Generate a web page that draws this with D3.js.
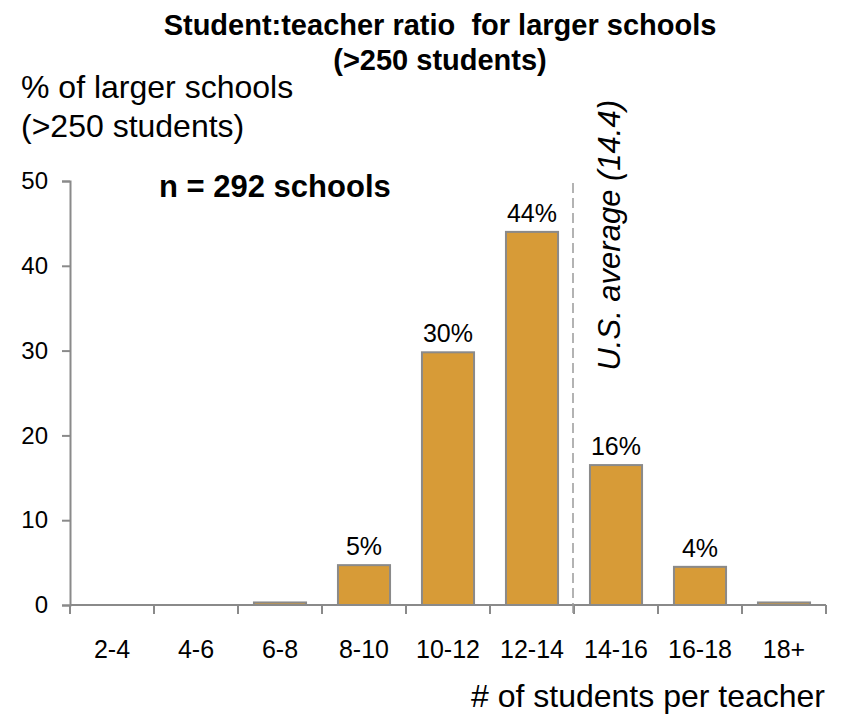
<!DOCTYPE html>
<html>
<head>
<meta charset="utf-8">
<script src="https://cdn.jsdelivr.net/npm/d3@7"></script>
<style>
  body { margin: 0; background: #fff; }
  text { font-family: "Liberation Sans", Arial, sans-serif; fill: #000; }
</style>
</head>
<body>
<div id="chart"></div>
<script>
// data
var categories = ["2-4", "4-6", "6-8", "8-10", "10-12", "12-14", "14-16", "16-18", "18+"];
var shares = [0, 0, 0.3, 4.7, 29.8, 44, 16.5, 4.5, 0.3];
var barLabels = ["", "", "", "5%", "30%", "44%", "16%", "4%", ""];
var yTicks = [0, 10, 20, 30, 40, 50];
var usAverage = 14.4;

var svgWidth = 846;
var svgHeight = 721;

var svg = d3.select("#chart")
  .append("svg")
  .attr("width", svgWidth)
  .attr("height", svgHeight);

// plot area (named so they don't clash with window.top)
var plotLeft = 70, plotRight = 826, plotTop = 181, plotBottom = 605;

var xScale = d3.scaleBand()
  .domain(categories)
  .range([plotLeft, plotRight])
  .paddingInner(0.38)
  .paddingOuter(0.19);

var yScale = d3.scaleLinear()
  .domain([0, 50])
  .range([plotBottom, plotTop]);

var grey = "#8a8a8a";

// y axis
var yAxis = svg.append("g")
  .attr("transform", `translate(${plotLeft},0)`)
  .call(d3.axisLeft(yScale).tickValues(yTicks).tickSizeOuter(0).tickSize(8).tickPadding(14));
yAxis.select(".domain").attr("stroke", grey).attr("stroke-width", 2);
yAxis.selectAll(".tick line").attr("stroke", grey).attr("stroke-width", 2);
yAxis.selectAll(".tick text")
  .style("font-size", "24px")
  .style("font-family", "'Liberation Sans', Arial, sans-serif")
  .attr("fill", "#000");

// x axis: ticks sit on category boundaries
var step = xScale.step();
var boundaries = d3.range(categories.length + 1).map(i => plotLeft + i * step);
svg.append("line")
  .attr("x1", plotLeft).attr("x2", plotRight)
  .attr("y1", plotBottom).attr("y2", plotBottom)
  .attr("stroke", grey).attr("stroke-width", 2);
svg.selectAll(".xtick")
  .data(boundaries)
  .enter()
  .append("line")
  .attr("x1", d => d).attr("x2", d => d)
  .attr("y1", plotBottom).attr("y2", plotBottom + 9)
  .attr("stroke", grey).attr("stroke-width", 2);
svg.selectAll(".xlabel")
  .data(categories)
  .enter()
  .append("text")
  .attr("x", d => xScale(d) + xScale.bandwidth() / 2)
  .attr("y", 658)
  .attr("text-anchor", "middle")
  .style("font-size", "25px")
  .text(d => d);

// bars
var rows = categories.map((c, i) => ({cat: c, v: shares[i], label: barLabels[i]}));
svg.selectAll(".bar")
  .data(rows.filter(d => d.v > 0))
  .enter()
  .append("rect")
  .attr("x", d => xScale(d.cat))
  .attr("y", d => yScale(d.v))
  .attr("width", xScale.bandwidth())
  .attr("height", d => yScale(0) - yScale(d.v))
  .attr("fill", "#D79B37")
  .attr("stroke", grey)
  .attr("stroke-width", 2);

svg.selectAll(".barlabel")
  .data(rows.filter(d => d.label))
  .enter()
  .append("text")
  .attr("x", d => xScale(d.cat) + xScale.bandwidth() / 2)
  .attr("y", d => yScale(d.v) - 10)
  .attr("text-anchor", "middle")
  .style("font-size", "25px")
  .text(d => d.label);

// U.S. average marker, drawn just left of the 12-14 / 14-16 boundary
var avgX = xScale("14-16") - (step - xScale.bandwidth()) / 2 - 1;
svg.append("line")
  .attr("x1", avgX).attr("x2", avgX)
  .attr("y1", 183).attr("y2", plotBottom + 9)
  .attr("stroke", "#9a9a9a")
  .attr("stroke-width", 1.5)
  .attr("stroke-dasharray", "10,5");
svg.append("text")
  .attr("transform", `translate(620,100) rotate(-90)`)
  .attr("text-anchor", "end")
  .style("font-size", "31px")
  .style("font-style", "italic")
  .text(`U.S. average (${usAverage})`);

// titles and labels
svg.append("text")
  .attr("x", 440).attr("y", 35)
  .attr("text-anchor", "middle")
  .style("font-size", "29px").style("font-weight", "bold")
  .style("white-space", "pre")
  .text("Student:teacher ratio  for larger schools");
svg.append("text")
  .attr("x", 440).attr("y", 70)
  .attr("text-anchor", "middle")
  .style("font-size", "29px").style("font-weight", "bold")
  .text("(>250 students)");

svg.append("text")
  .attr("x", 21).attr("y", 98)
  .style("font-size", "32px")
  .text("% of larger schools");
svg.append("text")
  .attr("x", 21).attr("y", 137)
  .style("font-size", "32px")
  .text("(>250 students)");

svg.append("text")
  .attr("x", 159).attr("y", 197)
  .style("font-size", "31px").style("font-weight", "bold")
  .text("n = 292 schools");

svg.append("text")
  .attr("x", 825).attr("y", 707)
  .attr("text-anchor", "end")
  .style("font-size", "32px")
  .text("# of students per teacher");
</script>
</body>
</html>
